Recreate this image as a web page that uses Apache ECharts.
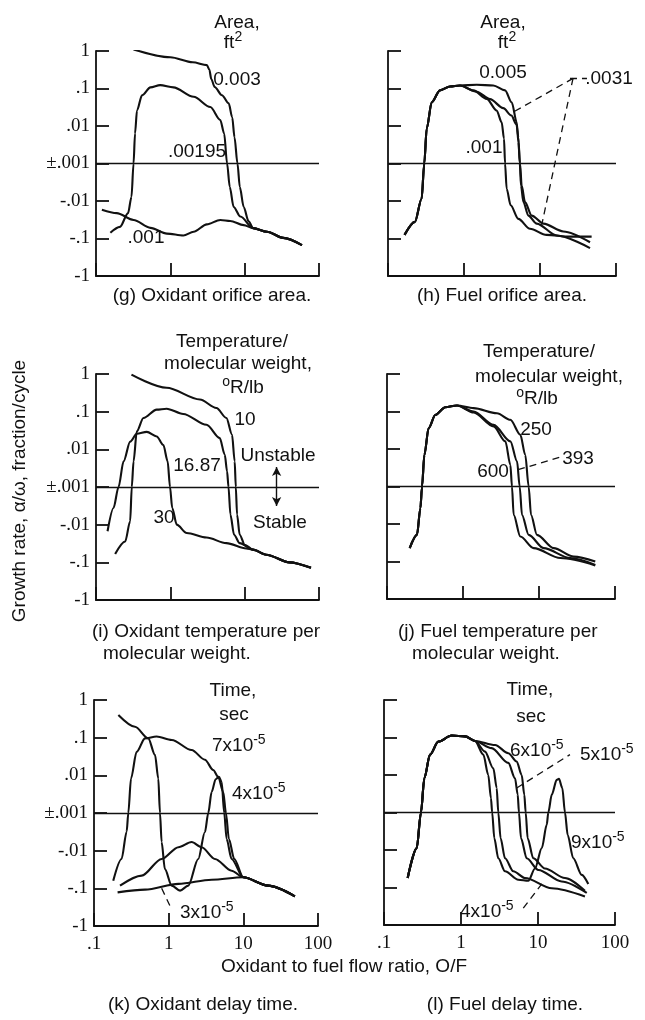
<!DOCTYPE html>
<html>
<head>
<meta charset="utf-8">
<script src="https://cdn.jsdelivr.net/npm/echarts@6/dist/echarts.min.js"></script>
<style>
  html, body { margin: 0; padding: 0; background: #fff; }
  #chart { width: 645px; height: 1020px; }
</style>
</head>
<body>
<div id="chart"></div>
<script>
// x: oxidant to fuel flow ratio O/F, y: growth rate (fraction/cycle)
const xTickValues = [0.1, 1, 10, 100];
const xTickLabels = ['.1', '1', '10', '100'];
const yTickLabels = ['-1', '-.1', '-.01', '\u00b1.001', '.01', '.1', '1'];

// (g) oxidant orifice area
const gTail = [[13, -0.053], [20, -0.066], [33, -0.096], [59, -0.15]];
const gArea003 = [[0.32, 1.1], [1.0, 0.68], [2.0, 0.5], [3.1, 0.42], [3.35, 0.32], [3.55, 0.18], [3.95, 0.11], [4.95, 0.066], [6.1, 0.04], [6.8, 0.017], [7.3, 0.005], [8.0, 0.001], [8.6, -0.0042], [9.7, -0.0144], [11.3, -0.035]];
const gArea00195 = [[0.156, -0.07], [0.21, -0.049], [0.27, -0.021], [0.3, -0.0078], [0.32, 0.001], [0.335, 0.0063], [0.356, 0.026], [0.416, 0.066], [0.54, 0.107], [0.73, 0.123], [1.1, 0.107], [2.06, 0.06], [3.45, 0.032], [4.7, 0.0144], [5.3, 0.0063], [5.8, 0.001], [6.3, -0.0042], [7.1, -0.0144], [8.75, -0.026]];
const gArea001 = [[0.12, -0.017], [0.19, -0.021], [0.32, -0.032], [0.54, -0.052], [0.9, -0.074], [1.5, -0.083], [2.06, -0.066], [3.1, -0.042], [4.7, -0.032], [6.4, -0.034], [9.7, -0.044]];

// (h) fuel orifice area
const hRise = [[0.165, -0.08], [0.226, -0.036], [0.277, -0.0087], [0.3, 0.001], [0.323, 0.0085], [0.376, 0.043], [0.483, 0.089], [0.654, 0.113], [0.886, 0.12]];
const hArea0005 = [[1.47, 0.126], [2.43, 0.12], [3.47, 0.089], [4.24, 0.043], [4.94, 0.0126], [5.19, 0.0037], [5.46, 0.001], [5.74, -0.0039], [6.35, -0.0107], [7.78, -0.0245], [11.1, -0.04], [20.3, -0.065], [45.5, -0.126]];
const hArea0031 = [[1.47, 0.082], [2.2, 0.052], [3.29, 0.03], [4.2, 0.019], [4.9, 0.011], [5.2, 0.005], [5.42, 0.001], [5.62, -0.0039], [6.05, -0.0107], [7.02, -0.0245], [9.05, -0.04], [16.6, -0.083], [45.5, -0.18]];
const hArea0001 = [[1.33, 0.089], [1.99, 0.053], [2.69, 0.026], [3.13, 0.0126], [3.36, 0.0046], [3.47, 0.001], [3.64, -0.0047], [4.11, -0.013], [5.19, -0.03], [7.38, -0.055], [12.2, -0.08], [24.8, -0.089], [47.8, -0.089]];

// (i) oxidant temperature per molecular weight
const iTail = [[12.9, -0.046], [19.5, -0.063], [40, -0.1], [78, -0.14]];
const iTemp10 = [[0.3, 0.96], [0.89, 0.43], [2.5, 0.21], [4.17, 0.125], [5.68, 0.068], [6.76, 0.0245], [7.34, 0.0048], [7.6, 0.001], [7.9, -0.0054], [8.57, -0.0185], [10, -0.034]];
const iTemp1687 = [[0.181, -0.06], [0.247, -0.028], [0.288, -0.0081], [0.303, 0.001], [0.32, 0.0048], [0.354, 0.03], [0.435, 0.068], [0.656, 0.113], [0.89, 0.12], [1.49, 0.087], [3.07, 0.045], [4.62, 0.02], [5.4, 0.0072], [5.8, 0.0026], [6.06, 0.001], [6.43, -0.0054], [7.2, -0.0185], [8.57, -0.031]];
const iTemp30 = [[0.143, -0.015], [0.172, -0.0036], [0.201, 0.001], [0.235, 0.0048], [0.288, 0.016], [0.354, 0.026], [0.482, 0.029], [0.656, 0.022], [0.806, 0.013], [0.92, 0.0048], [0.99, 0.001], [1.06, -0.0036], [1.22, -0.01], [1.66, -0.0166], [3.07, -0.022], [5.68, -0.031], [10.5, -0.043]];

// (j) fuel temperature per molecular weight
const jRise = [[0.199, -0.044], [0.248, -0.0195], [0.275, -0.0038], [0.289, 0.001], [0.31, 0.0069], [0.353, 0.036], [0.432, 0.081], [0.586, 0.13], [0.834, 0.145]];
const jTemp250 = [[1.38, 0.123], [2.8, 0.09], [4.2, 0.06], [5.68, 0.024], [6.6, 0.0069], [7.31, 0.001], [7.85, -0.0057], [9.4, -0.0195], [15.6, -0.044], [28.6, -0.074], [55, -0.1]];
const jTemp393 = [[1.38, 0.1], [2.53, 0.044], [4.2, 0.016], [5.14, 0.0047], [5.57, 0.001], [5.97, -0.0057], [7.31, -0.0195], [11.5, -0.044], [25.8, -0.081], [55, -0.123]];
const jTemp600 = [[1.38, 0.094], [2.53, 0.04], [3.61, 0.016], [4.2, 0.0038], [4.41, 0.001], [4.64, -0.0057], [5.68, -0.0215], [8.51, -0.044], [19.1, -0.081], [55, -0.127]];

// (k) oxidant delay time
const kTail = [[9.97, -0.051], [21.5, -0.085], [49, -0.163]];
const kDelay7 = [[0.181, -0.063], [0.234, -0.0166], [0.274, -0.0031], [0.288, 0.001], [0.313, 0.0082], [0.372, 0.042], [0.482, 0.096], [0.689, 0.107], [1.1, 0.087], [2.03, 0.047], [3.06, 0.026], [3.95, 0.0138], [4.61, 0.0091], [5.38, 0.0036], [5.85, 0.001], [6.41, -0.0049], [7.55, -0.0166]];
const kDelay4 = [[0.212, 0.4], [0.354, 0.195], [0.533, 0.096], [0.656, 0.035], [0.726, 0.0082], [0.765, 0.001], [0.805, -0.0059], [0.89, -0.031], [1.1, -0.085], [1.42, -0.115], [1.83, -0.085], [2.49, -0.0166], [3.06, -0.0032], [3.39, 0.001], [3.76, 0.0036], [4.26, 0.0079], [4.71, 0.0091], [5.12, 0.0067], [5.55, 0.001], [5.97, -0.0049], [6.96, -0.0166]];
const kDelayMid = [[0.223, -0.085], [0.435, -0.046], [0.805, -0.0166], [1.35, -0.0081], [2.03, -0.0059], [2.76, -0.0081], [4.17, -0.0166], [6.96, -0.034]];
const kDelay3 = [[0.207, -0.128], [0.482, -0.108], [1.35, -0.076], [3.76, -0.059]];

// (l) fuel delay time
const lRise = [[0.203, -0.056], [0.266, -0.0089], [0.302, 0.001], [0.334, 0.0082], [0.396, 0.035], [0.508, 0.078], [0.757, 0.113], [1.13, 0.107], [1.52, 0.081]];
const lDelay9 = [[1.95, 0.035], [2.26, 0.01], [2.45, 0.0024], [2.54, 0.001], [2.71, -0.0049], [3.05, -0.0166], [3.73, -0.037], [5.55, -0.062], [7.49, -0.066], [9.14, -0.031], [11.2, -0.0089], [13, -0.0021], [13.6, 0.001], [15.1, 0.003], [17.5, 0.0074], [18.7, 0.0079], [20.7, 0.0045], [22.4, 0.001], [24.3, -0.004], [28.7, -0.0166], [37, -0.046], [45, -0.081]];
const lDelay4 = [[2.05, 0.042], [2.63, 0.015], [2.91, 0.0045], [3.05, 0.001], [3.27, -0.0049], [3.73, -0.0166], [4.78, -0.037], [6.78, -0.056], [15.1, -0.105], [40.7, -0.174]];
const lDelay5 = [[2.5, 0.052], [4.12, 0.021], [5.03, 0.0082], [5.45, 0.003], [5.66, 0.001], [6.02, -0.0049], [7.13, -0.0166], [10.1, -0.034], [20.3, -0.069], [43, -0.14]];
const lDelay6 = [[2.77, 0.063], [4.12, 0.038], [5.29, 0.023], [6.14, 0.01], [6.64, 0.003], [6.92, 0.001], [7.34, -0.0049], [8.69, -0.0166], [12.3, -0.031], [22.4, -0.056], [40.7, -0.123]];

// leader lines [[ratio, rate], [ratio, rate]]
const hLeaders = [[[24.8, 0.186], [41.5, 0.186]], [[27.2, 0.186], [4.2, 0.022]], [[27.2, 0.186], [10.5, -0.045]]];
const jLeaders = [[[5.3, 0.0028], [20.1, 0.0063]]];
const kLeaders = [[[0.805, -0.1], [1.04, -0.29]]];
const lLeaders = [[[5.29, 0.0045], [26, 0.035]], [[6.44, -0.355], [11.2, -0.08]]];
const iArrow = [[26.9, 0.0034], [26.9, -0.0032]];

const INK = '#111';
const F = "'Liberation Sans', Arial, sans-serif";
const SERIF = "'Liberation Serif', 'Times New Roman', serif";

const boxes = [
  { left: 96, top: 51, width: 223, height: 225 },
  { left: 388, top: 51, width: 228, height: 225 },
  { left: 96, top: 374, width: 223, height: 226 },
  { left: 387, top: 374, width: 228, height: 225 },
  { left: 94, top: 700, width: 224, height: 226 },
  { left: 384, top: 700, width: 231, height: 225 }
];

// signed log scale: +-.001 sits on zero, one unit per decade
const toU = v => {
  const a = Math.abs(v);
  return a <= 0.001 ? 0 : Math.sign(v) * Math.log10(a / 0.001);
};

function guides(leaders, arrow) {
  const data = [{ yAxis: 0, lineStyle: { type: 'solid', width: 1.3 } }];
  leaders.forEach(([a, b]) => {
    data.push([
      { coord: [a[0], toU(a[1])], lineStyle: { type: [7, 5], width: 1.3 } },
      { coord: [b[0], toU(b[1])] }
    ]);
  });
  if (arrow) {
    data.push([
      { coord: [arrow[0][0], toU(arrow[0][1])], symbol: 'arrow', symbolSize: [7, 9], lineStyle: { type: 'solid', width: 1.4 } },
      { coord: [arrow[1][0], toU(arrow[1][1])], symbol: 'arrow', symbolSize: [7, 9] }
    ]);
  }
  return {
    silent: true, symbol: 'none', animation: false,
    label: { show: false },
    lineStyle: { color: INK, width: 1.3 },
    emphasis: { disabled: true },
    data
  };
}

function curve(panel, name, arr, marks) {
  const s = {
    type: 'line', name, xAxisIndex: panel, yAxisIndex: panel,
    data: arr.map(([x, v]) => [x, toU(v)]),
    smooth: 0.3, smoothMonotone: 'x', symbol: 'none', silent: true,
    lineStyle: { color: INK, width: 2.1 }
  };
  if (marks) s.markLine = marks;
  return s;
}

const series = [
  curve(0, '0.003', gArea003.concat(gTail), guides([])),
  curve(0, '.00195', gArea00195.concat(gTail)),
  curve(0, '.001', gArea001.concat(gTail)),
  curve(1, '0.005', hRise.concat(hArea0005), guides(hLeaders)),
  curve(1, '.0031', hRise.concat(hArea0031)),
  curve(1, '.001', hRise.concat(hArea0001)),
  curve(2, '10', iTemp10.concat(iTail), guides([], iArrow)),
  curve(2, '16.87', iTemp1687.concat(iTail)),
  curve(2, '30', iTemp30.concat(iTail)),
  curve(3, '250', jRise.concat(jTemp250), guides(jLeaders)),
  curve(3, '393', jRise.concat(jTemp393)),
  curve(3, '600', jRise.concat(jTemp600)),
  curve(4, '7x10-5', kDelay7.concat(kTail), guides(kLeaders)),
  curve(4, '4x10-5', kDelay4.concat(kTail)),
  curve(4, 'mid', kDelayMid.concat(kTail)),
  curve(4, '3x10-5', kDelay3.concat(kTail)),
  curve(5, '9x10-5', lRise.concat(lDelay9), guides(lLeaders)),
  curve(5, '4x10-5', lRise.concat(lDelay4)),
  curve(5, '5x10-5', lRise.concat(lDelay5)),
  curve(5, '6x10-5', lRise.concat(lDelay6))
];

const axisInk = { color: INK, width: 1.8 };
const xAxes = boxes.map((b, i) => ({
  type: 'log', logBase: 10, gridIndex: i, min: 0.1, max: 100,
  axisLine: { show: true, onZero: false, lineStyle: axisInk },
  axisTick: { show: true, inside: true, length: 13, lineStyle: axisInk },
  minorTick: { show: false }, splitLine: { show: false },
  axisLabel: {
    show: i >= 4, showMinLabel: true, showMaxLabel: true,
    formatter: v => {
      let k = 0;
      xTickValues.forEach((t, j) => { if (Math.abs(Math.log10(t) - Math.log10(v)) < 0.01) k = j; });
      return xTickLabels[k];
    },
    fontFamily: SERIF, fontSize: 19, color: INK, margin: 9
  }
}));
const yAxes = boxes.map((b, i) => ({
  type: 'value', gridIndex: i, min: -3, max: 3, interval: 1,
  axisLine: { show: true, onZero: false, lineStyle: axisInk },
  axisTick: { show: true, inside: true, length: 13, lineStyle: axisInk },
  splitLine: { show: false },
  axisLabel: {
    show: i % 2 === 0,
    formatter: v => yTickLabels[Math.round(v) + 3],
    fontFamily: SERIF, fontSize: 19, color: INK, margin: 6
  }
}));

function txt(text, x, y, align) {
  return {
    type: 'text', x, y, silent: true,
    style: { text, fill: INK, fontFamily: F, fontSize: 19, align: align || 'center', verticalAlign: 'middle' }
  };
}
function sup(text, x, y, align) {
  return {
    type: 'text', x, y, silent: true,
    style: {
      text, align: align || 'center', verticalAlign: 'middle',
      rich: {
        b: { fill: INK, fontFamily: F, fontSize: 19, lineHeight: 26, verticalAlign: 'middle' },
        s: { fill: INK, fontFamily: F, fontSize: 14, lineHeight: 26, verticalAlign: 'top' }
      }
    }
  };
}

const graphic = [
  txt('Area,', 237, 23), sup('{b|ft}{s|2}', 233, 43),
  txt('0.003', 237, 80), txt('.00195', 197, 152), txt('.001', 146, 238),
  txt('Area,', 503, 23), sup('{b|ft}{s|2}', 507, 43),
  txt('0.005', 503, 73), txt('.0031', 609, 79), txt('.001', 484, 148),
  txt('Temperature/', 232, 342), txt('molecular weight,', 238, 364), sup('{s|o}{b|R/lb}', 243, 388),
  txt('10', 245, 420), txt('16.87', 197, 466), txt('30', 164, 518),
  txt('Unstable', 278, 456), txt('Stable', 280, 523),
  txt('Temperature/', 539, 352), txt('molecular weight,', 549, 377), sup('{s|o}{b|R/lb}', 537, 399),
  txt('250', 536, 430), txt('393', 578, 459), txt('600', 493, 472),
  txt('Time,', 233, 691), txt('sec', 234, 715),
  sup('{b|7x10}{s|-5}', 212, 746, 'left'), sup('{b|4x10}{s|-5}', 232, 794, 'left'), sup('{b|3x10}{s|-5}', 180, 913, 'left'),
  txt('Time,', 530, 690), txt('sec', 531, 717),
  sup('{b|6x10}{s|-5}', 510, 751, 'left'), sup('{b|5x10}{s|-5}', 580, 755, 'left'),
  sup('{b|9x10}{s|-5}', 571, 843, 'left'), sup('{b|4x10}{s|-5}', 460, 912, 'left'),
  txt('(g) Oxidant orifice area.', 212, 296), txt('(h) Fuel orifice area.', 502, 296),
  txt('(i) Oxidant temperature per', 92, 632, 'left'), txt('molecular weight.', 103, 654, 'left'),
  txt('(j) Fuel temperature per', 398, 632, 'left'), txt('molecular weight.', 412, 654, 'left'),
  txt('(k) Oxidant delay time.', 203, 1005), txt('(l) Fuel delay time.', 505, 1005),
  txt('Oxidant to fuel flow ratio, O/F', 344, 967),
  {
    type: 'text', x: 20, y: 491, rotation: Math.PI / 2, silent: true,
    style: { text: 'Growth rate, \u03b1/\u03c9, fraction/cycle', fill: INK, fontFamily: F, fontSize: 19, align: 'center', verticalAlign: 'middle' }
  }
];

const chart = echarts.init(document.getElementById('chart'));
chart.setOption({
  animation: false,
  backgroundColor: '#fff',
  grid: boxes,
  xAxis: xAxes,
  yAxis: yAxes,
  series,
  graphic
});
</script>
</body>
</html>
